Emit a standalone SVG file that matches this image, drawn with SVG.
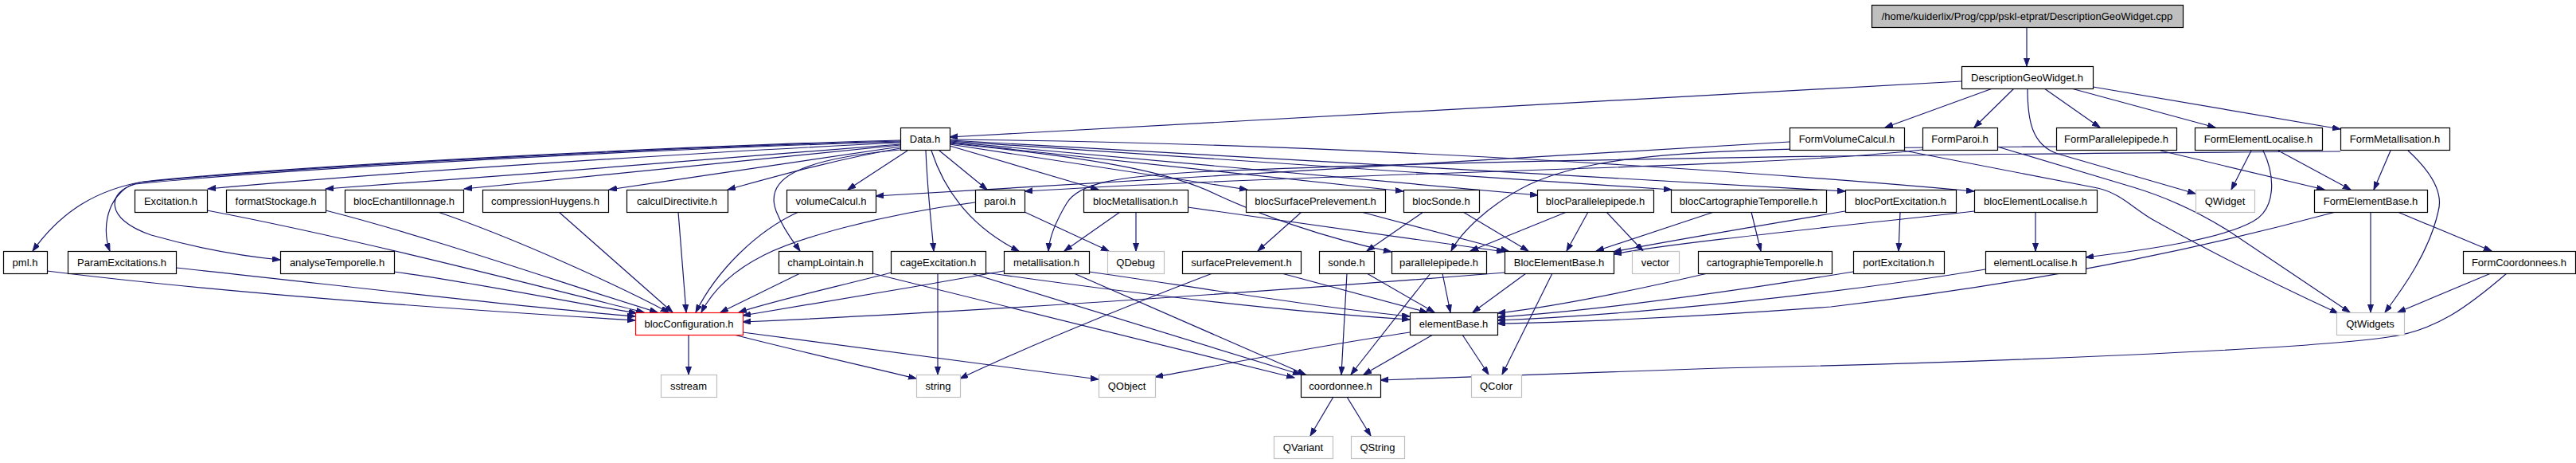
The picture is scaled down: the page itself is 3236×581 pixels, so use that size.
<svg xmlns="http://www.w3.org/2000/svg" width="3236" height="581" viewBox="0 0 3236 581">
<style>
.n rect{fill:#fff;stroke:#000;stroke-width:1.2}
.g rect{fill:#fff;stroke:#bfbfbf;stroke-width:1.2}
.r rect{fill:#fff;stroke:#ff0000;stroke-width:1.2}
.t rect{fill:#bfbfbf;stroke:#000;stroke-width:1.2}
text{font-family:"Liberation Sans",Arial,sans-serif;font-size:13px;fill:#000;text-anchor:middle}
#edges path{fill:none;stroke:#191970;stroke-width:1.2;marker-end:url(#a)}
</style>
<defs>
<marker id="a" markerUnits="userSpaceOnUse" markerWidth="11" markerHeight="8" refX="10" refY="3.5" orient="auto">
<path d="M0,0 L10,3.5 L0,7 z" fill="#191970" stroke="#191970" stroke-width="1"/>
</marker>
</defs>
<rect width="3236" height="581" fill="#fff"/>
<g id="edges">
<path d="M2546,34 L2546,83"/>
<path d="M2464,102 L1193,172"/>
<path d="M2503,111 L2368,160"/>
<path d="M2530,111 L2480,160"/>
<path d="M2568,111 L2638,160"/>
<path d="M2602,111 L2783,160"/>
<path d="M2629,109 L2940,162"/>
<path d="M2547,111 C2547,150 2552,182 2585,193 L2758,243"/>
<path d="M2248,178 L1100,246"/>
<path d="M2392,189 L2635,236 C2665,243 2680,262 2705,276 C2780,318 2870,362 2937,393"/>
<path d="M2415,188 C2200,212 1700,215 1287,240"/>
<path d="M2509,184 L2680,235 C2720,247 2760,265 2800,290 L2952,392"/>
<path d="M2583,184 C2200,186 2020,185 1920,232 C1870,257 1835,292 1823,315"/>
<path d="M2714,189 L2920,238"/>
<path d="M2828,189 L2803,238"/>
<path d="M2862,189 L2953,238"/>
<path d="M2843,189 C2858,220 2860,262 2830,278 C2790,300 2700,313 2620,323"/>
<path d="M3003,189 L2982,238"/>
<path d="M3025,189 C3050,212 3070,240 3063,265 C3052,315 3020,360 2996,392"/>
<path d="M2940,190 C2500,193 1900,198 1500,216 C1400,222 1355,230 1340,255 C1325,280 1318,300 1317,315"/>
<path d="M2978,266 L2978,392"/>
<path d="M3012,266 L3130,315"/>
<path d="M2934,266 C2800,302 2600,350 2300,385 C2100,400 1950,405 1881,406"/>
<path d="M3129,343 L3012,392"/>
<path d="M3149,343 C3100,385 3060,415 3000,423 C2900,438 2500,455 2160,462 L1734,477"/>
<path d="M1131,176 C900,182 400,205 180,228 C110,240 70,275 41,315"/>
<path d="M1131,177 C900,183 400,206 175,229 C140,236 125,280 138,315"/>
<path d="M1131,178 C900,184 400,208 170,231 C135,240 130,275 190,295 C250,312 310,322 352,326"/>
<path d="M1131,179 C900,190 500,215 261,237"/>
<path d="M1131,181 C950,195 650,220 409,237"/>
<path d="M1131,182 C1000,195 800,215 583,237"/>
<path d="M1131,184 C1050,195 900,218 765,238"/>
<path d="M1131,186 C1050,200 980,220 914,238"/>
<path d="M1140,189 L1065,238"/>
<path d="M1131,188 C1000,200 960,225 975,265 C985,290 998,305 1005,315"/>
<path d="M1163,189 C1165,240 1170,280 1173,315"/>
<path d="M1180,189 L1240,238"/>
<path d="M1170,189 C1190,250 1230,290 1280,315"/>
<path d="M1193,183 L1380,238"/>
<path d="M1193,181 L1567,238"/>
<path d="M1193,180 C1400,200 1480,220 1530,245 C1580,268 1660,298 1748,316"/>
<path d="M1193,179 L1763,240"/>
<path d="M1193,178 L1932,245"/>
<path d="M1193,177 L2100,238"/>
<path d="M1193,176 L2318,240"/>
<path d="M1193,175 C1700,180 2200,215 2480,240"/>
<path d="M865,420 L865,470"/>
<path d="M933,417 C1100,440 1250,460 1380,476"/>
<path d="M922,420 C1000,440 1080,458 1151,475"/>
<path d="M59,340 C300,370 600,390 798,402"/>
<path d="M221,336 C400,355 650,385 798,397"/>
<path d="M495,341 C600,355 720,380 800,393"/>
<path d="M260,264 C450,300 680,360 809,392"/>
<path d="M409,264 C550,300 720,360 826,392"/>
<path d="M550,266 C650,300 780,360 840,392"/>
<path d="M702,266 L845,392"/>
<path d="M852,266 L862,392"/>
<path d="M1003,266 C950,290 900,340 874,392"/>
<path d="M1225,254 C1100,270 1000,300 960,320 C920,340 895,365 881,392"/>
<path d="M1005,343 L905,392"/>
<path d="M1120,342 C1050,360 970,378 928,392"/>
<path d="M1261,340 C1150,360 1000,385 933,396"/>
<path d="M1891,342 C1600,365 1250,390 933,404"/>
<path d="M1178,343 L1178,470"/>
<path d="M1220,343 L1634,470"/>
<path d="M1238,342 C1400,365 1600,390 1771,401"/>
<path d="M1096,343 L1626,474"/>
<path d="M1349,343 L1640,470"/>
<path d="M1368,341 C1500,360 1650,385 1771,397"/>
<path d="M1523,343 C1400,390 1280,440 1206,475"/>
<path d="M1610,343 L1793,392"/>
<path d="M1692,343 L1685,470"/>
<path d="M1717,343 L1802,392"/>
<path d="M1797,343 L1697,470"/>
<path d="M1812,343 L1822,392"/>
<path d="M1917,343 L1850,392"/>
<path d="M1950,343 L1887,470"/>
<path d="M1800,420 L1713,470"/>
<path d="M1837,420 L1870,470"/>
<path d="M1771,417 C1650,435 1550,455 1451,473"/>
<path d="M1675,498 L1646,547"/>
<path d="M1692,498 L1722,547"/>
<path d="M2145,343 C2050,365 1950,385 1881,393"/>
<path d="M2328,341 C2150,370 2000,390 1881,398"/>
<path d="M2494,338 C2300,370 2050,395 1881,402"/>
<path d="M1635,266 L1580,315"/>
<path d="M1710,266 L1895,315"/>
<path d="M1788,266 L1717,315"/>
<path d="M1838,266 L1920,315"/>
<path d="M1968,266 L1847,315"/>
<path d="M1995,266 L1968,315"/>
<path d="M2018,266 L2064,315"/>
<path d="M2200,266 L2212,315"/>
<path d="M2153,266 L2005,315"/>
<path d="M2387,266 L2385,315"/>
<path d="M2318,265 C2200,285 2080,305 2027,316"/>
<path d="M2557,266 L2557,315"/>
<path d="M2480,265 C2300,285 2100,305 2027,319"/>
<path d="M1407,266 L1337,315"/>
<path d="M1427,266 L1427,315"/>
<path d="M1492,260 L1890,316"/>
<path d="M1287,266 L1393,315"/>
</g>
<g id="n_top" class="t"><rect x="2351.5" y="6.5" width="391" height="28"/><text x="2546.5" y="25">/home/kuiderlix/Prog/cpp/pskl-etprat/DescriptionGeoWidget.cpp</text></g>
<g id="n_dgw" class="n"><rect x="2464.5" y="83.5" width="165" height="28"/><text x="2546.5" y="102">DescriptionGeoWidget.h</text></g>
<g id="n_data" class="n"><rect x="1131.5" y="160.5" width="62" height="28"/><text x="1162" y="179">Data.h</text></g>
<g id="n_formvolumecalcul" class="n"><rect x="2248.5" y="160.5" width="144" height="28"/><text x="2320" y="179">FormVolumeCalcul.h</text></g>
<g id="n_formparoi" class="n"><rect x="2415.5" y="160.5" width="94" height="28"/><text x="2462" y="179">FormParoi.h</text></g>
<g id="n_formparallelepipede" class="n"><rect x="2583.5" y="160.5" width="151" height="28"/><text x="2658.5" y="179">FormParallelepipede.h</text></g>
<g id="n_formelementlocalise" class="n"><rect x="2757.5" y="160.5" width="160" height="28"/><text x="2837" y="179">FormElementLocalise.h</text></g>
<g id="n_formmetallisation" class="n"><rect x="2940.5" y="160.5" width="137" height="28"/><text x="3008.5" y="179">FormMetallisation.h</text></g>
<g id="n_excitation" class="n"><rect x="169.5" y="238.5" width="91" height="28"/><text x="214.5" y="257">Excitation.h</text></g>
<g id="n_formatstockage" class="n"><rect x="284.5" y="238.5" width="125" height="28"/><text x="346.5" y="257">formatStockage.h</text></g>
<g id="n_blocechantillonnage" class="n"><rect x="433.5" y="238.5" width="149" height="28"/><text x="507.5" y="257">blocEchantillonnage.h</text></g>
<g id="n_compressionhuygens" class="n"><rect x="606.5" y="238.5" width="158" height="28"/><text x="685" y="257">compressionHuygens.h</text></g>
<g id="n_calculdirectivite" class="n"><rect x="787.5" y="238.5" width="127" height="28"/><text x="850.5" y="257">calculDirectivite.h</text></g>
<g id="n_volumecalcul" class="n"><rect x="988.5" y="238.5" width="112" height="28"/><text x="1044" y="257">volumeCalcul.h</text></g>
<g id="n_paroi" class="n"><rect x="1225.5" y="238.5" width="62" height="28"/><text x="1256" y="257">paroi.h</text></g>
<g id="n_blocmetallisation" class="n"><rect x="1361.5" y="238.5" width="131" height="28"/><text x="1426.5" y="257">blocMetallisation.h</text></g>
<g id="n_blocsurfaceprelevement" class="n"><rect x="1565.5" y="238.5" width="175" height="28"/><text x="1652.5" y="257">blocSurfacePrelevement.h</text></g>
<g id="n_blocsonde" class="n"><rect x="1763.5" y="238.5" width="95" height="28"/><text x="1810.5" y="257">blocSonde.h</text></g>
<g id="n_blocparallelepipede" class="n"><rect x="1931.5" y="238.5" width="146" height="28"/><text x="2004" y="257">blocParallelepipede.h</text></g>
<g id="n_bloccartographietemporelle" class="n"><rect x="2099.5" y="238.5" width="195" height="28"/><text x="2196.5" y="257">blocCartographieTemporelle.h</text></g>
<g id="n_blocportexcitation" class="n"><rect x="2318.5" y="238.5" width="139" height="28"/><text x="2387.5" y="257">blocPortExcitation.h</text></g>
<g id="n_blocelementlocalise" class="n"><rect x="2480.5" y="238.5" width="154" height="28"/><text x="2557" y="257">blocElementLocalise.h</text></g>
<g id="n_qwidget" class="g"><rect x="2758.5" y="238.5" width="74" height="28"/><text x="2795" y="257">QWidget</text></g>
<g id="n_formelementbase" class="n"><rect x="2907.5" y="238.5" width="142" height="28"/><text x="2978" y="257">FormElementBase.h</text></g>
<g id="n_pml" class="n"><rect x="4.5" y="315.5" width="55" height="28"/><text x="31.5" y="334">pml.h</text></g>
<g id="n_paramexcitations" class="n"><rect x="85.5" y="315.5" width="136" height="28"/><text x="153" y="334">ParamExcitations.h</text></g>
<g id="n_analysetemporelle" class="n"><rect x="352.5" y="315.5" width="143" height="28"/><text x="423.5" y="334">analyseTemporelle.h</text></g>
<g id="n_champlointain" class="n"><rect x="978.5" y="315.5" width="118" height="28"/><text x="1037" y="334">champLointain.h</text></g>
<g id="n_cageexcitation" class="n"><rect x="1119.5" y="315.5" width="119" height="28"/><text x="1178.5" y="334">cageExcitation.h</text></g>
<g id="n_metallisation" class="n"><rect x="1261.5" y="315.5" width="107" height="28"/><text x="1314.5" y="334">metallisation.h</text></g>
<g id="n_qdebug" class="g"><rect x="1391.5" y="315.5" width="71" height="28"/><text x="1426.5" y="334">QDebug</text></g>
<g id="n_surfaceprelevement" class="n"><rect x="1485.5" y="315.5" width="149" height="28"/><text x="1559.5" y="334">surfacePrelevement.h</text></g>
<g id="n_sonde" class="n"><rect x="1657.5" y="315.5" width="69" height="28"/><text x="1691.5" y="334">sonde.h</text></g>
<g id="n_parallelepipede" class="n"><rect x="1748.5" y="315.5" width="119" height="28"/><text x="1807.5" y="334">parallelepipede.h</text></g>
<g id="n_blocelementbase" class="n"><rect x="1890.5" y="315.5" width="137" height="28"/><text x="1958.5" y="334">BlocElementBase.h</text></g>
<g id="n_vector" class="g"><rect x="2050.5" y="315.5" width="59" height="28"/><text x="2079.5" y="334">vector</text></g>
<g id="n_cartographietemporelle" class="n"><rect x="2133.5" y="315.5" width="168" height="28"/><text x="2217" y="334">cartographieTemporelle.h</text></g>
<g id="n_portexcitation" class="n"><rect x="2328.5" y="315.5" width="114" height="28"/><text x="2385" y="334">portExcitation.h</text></g>
<g id="n_elementlocalise" class="n"><rect x="2494.5" y="315.5" width="126" height="28"/><text x="2557" y="334">elementLocalise.h</text></g>
<g id="n_formcoordonnees" class="n"><rect x="3094.5" y="315.5" width="141" height="28"/><text x="3164.5" y="334">FormCoordonnees.h</text></g>
<g id="n_blocconfiguration" class="r"><rect x="798.5" y="392.5" width="135" height="28"/><text x="865.5" y="411">blocConfiguration.h</text></g>
<g id="n_elementbase" class="n"><rect x="1771.5" y="392.5" width="110" height="28"/><text x="1826" y="411">elementBase.h</text></g>
<g id="n_qtwidgets" class="g"><rect x="2935.5" y="392.5" width="85" height="28"/><text x="2977.5" y="411">QtWidgets</text></g>
<g id="n_sstream" class="g"><rect x="830.5" y="470.5" width="70" height="28"/><text x="865" y="489">sstream</text></g>
<g id="n_string" class="g"><rect x="1151.5" y="470.5" width="55" height="28"/><text x="1178.5" y="489">string</text></g>
<g id="n_qobject" class="g"><rect x="1380.5" y="470.5" width="71" height="28"/><text x="1415.5" y="489">QObject</text></g>
<g id="n_coordonnee" class="n"><rect x="1634.5" y="470.5" width="100" height="28"/><text x="1684" y="489">coordonnee.h</text></g>
<g id="n_qcolor" class="g"><rect x="1848.5" y="470.5" width="63" height="28"/><text x="1879.5" y="489">QColor</text></g>
<g id="n_qvariant" class="g"><rect x="1600.5" y="547.5" width="74" height="28"/><text x="1637" y="566">QVariant</text></g>
<g id="n_qstring" class="g"><rect x="1697.5" y="547.5" width="67" height="28"/><text x="1730.5" y="566">QString</text></g>
</svg>
